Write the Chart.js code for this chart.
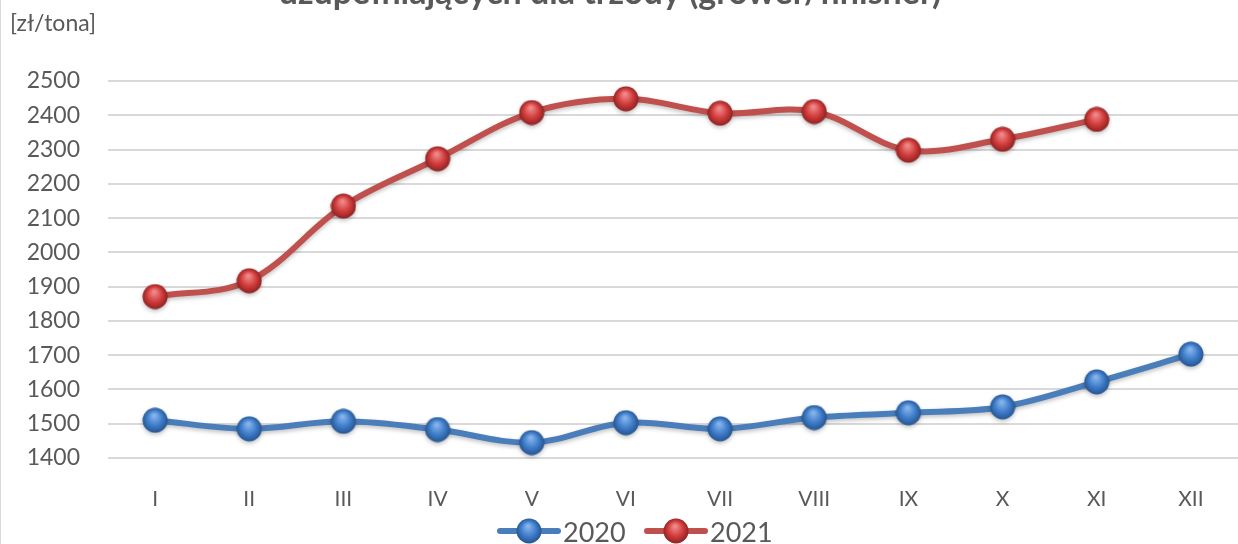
<!DOCTYPE html>
<html>
<head>
<meta charset="utf-8">
<script src="https://cdn.jsdelivr.net/npm/chart.js@4/dist/chart.umd.min.js"></script>
<style>
  html, body { margin: 0; padding: 0; background: #fff; }
  #wrap { position: relative; width: 1238px; height: 544px; overflow: hidden; border-left: 1px solid #d9d9d9; box-sizing: border-box; }
  canvas { display: block; }
</style>
</head>
<body>
<div id="wrap"><canvas id="chart" width="1237" height="544"></canvas></div>
<script>
const months = ["I", "II", "III", "IV", "V", "VI", "VII", "VIII", "IX", "X", "XI", "XII"];
const values2020 = [1510, 1485, 1507, 1483, 1445, 1503, 1485, 1518, 1532, 1549, 1622, 1703];
const values2021 = [1871, 1917, 2135, 2273, 2408, 2448, 2406, 2411, 2298, 2330, 2388, null];
const titleText = "uzupełniających dla trzody (grower/finisher)";
const unitText = "[zł/tona]";
const yMin = 1400, yMax = 2500, yStep = 100;

const textColor = "#595959";
const fontFamily = "Lato, 'Open Sans', 'Liberation Sans', sans-serif";

// glossy sphere marker drawn once, used as pointStyle image
function sphere(light, base, dark) {
    let c = document.createElement("canvas");
    c.width = 26; c.height = 26;
    let ctx = c.getContext("2d");
    let g = ctx.createRadialGradient(12, 8, 1, 13, 13, 13);
    g.addColorStop(0, light);
    g.addColorStop(0.55, base);
    g.addColorStop(1, dark);
    ctx.beginPath();
    ctx.arc(13, 13, 12.5, 0, Math.PI * 2);
    ctx.fillStyle = g;
    ctx.fill();
    return c;
}
const blueBall = sphere("#86b4ec", "#3f7dca", "#24528c");
const redBall = sphere("#f08a8a", "#d23c3c", "#8a2020");

const titlePlugin = {
    id: "titleAndUnit",
    afterDraw(chart) {
        let ctx = chart.ctx;
        ctx.save();
        ctx.fillStyle = textColor;
        ctx.font = "bold 34px " + fontFamily;
        ctx.textAlign = "center";
        ctx.textBaseline = "alphabetic";
        ctx.fillText(titleText, 609, 4);
        ctx.font = "23px " + fontFamily;
        ctx.textAlign = "left";
        ctx.textBaseline = "middle";
        ctx.fillText(unitText, 9, 24);
        ctx.restore();
    }
};

const legendPlugin = {
    id: "lineLegend",
    afterDraw(chart) {
        let ctx = chart.ctx;
        let items = [
            {x: 499, ds: chart.data.datasets[0]},
            {x: 646, ds: chart.data.datasets[1]}
        ];
        ctx.save();
        items.forEach(it => {
            let y = 531;
            ctx.strokeStyle = it.ds.borderColor;
            ctx.lineWidth = 6;
            ctx.lineCap = "round";
            ctx.beginPath();
            ctx.moveTo(it.x, y);
            ctx.lineTo(it.x + 58, y);
            ctx.stroke();
            ctx.drawImage(it.ds.pointStyle, it.x + 16, y - 13);
            ctx.fillStyle = textColor;
            ctx.font = "27px " + fontFamily;
            ctx.textAlign = "left";
            ctx.textBaseline = "middle";
            ctx.fillText(it.ds.label, it.x + 63, y + 2);
        });
        ctx.restore();
    }
};

const shadowPlugin = {
    id: "lineShadow",
    beforeDatasetDraw(chart) {
        chart.ctx.save();
        chart.ctx.shadowColor = "rgba(0,0,0,0.25)";
        chart.ctx.shadowBlur = 4;
        chart.ctx.shadowOffsetY = 2;
    },
    afterDatasetDraw(chart) {
        chart.ctx.restore();
    }
};

new Chart(document.getElementById("chart"), {
    type: "line",
    data: {
        labels: months,
        datasets: [
            {
                label: "2020",
                data: values2020,
                borderColor: "#4a7ebb",
                borderWidth: 6,
                pointStyle: blueBall,
                tension: 0.35,
                clip: false
            },
            {
                label: "2021",
                data: values2021,
                borderColor: "#c0504d",
                borderWidth: 6,
                pointStyle: redBall,
                tension: 0.35,
                clip: false
            }
        ]
    },
    options: {
        responsive: false,
        animation: false,
        layout: {autoPadding: false, padding: {top: 81, left: 0, right: 0, bottom: 0}},
        plugins: {
            legend: {display: false},
            title: {display: false},
            tooltip: {enabled: false}
        },
        scales: {
            x: {
                offset: true,
                grid: {display: false},
                border: {display: false},
                ticks: {color: textColor, font: {family: fontFamily, size: 21}, padding: 21, maxRotation: 0},
                afterFit(scale) { scale.height = 86; }
            },
            y: {
                min: yMin,
                max: yMax,
                grid: {color: "#d9d9d9", lineWidth: 2, drawTicks: false},
                border: {display: false},
                ticks: {
                    stepSize: yStep,
                    color: textColor,
                    font: {family: fontFamily, size: 23},
                    padding: 28,
                    callback: v => String(v)
                },
                afterFit(scale) { scale.width = 107; }
            }
        }
    },
    plugins: [titlePlugin, legendPlugin, shadowPlugin]
});
</script>
</body>
</html>
